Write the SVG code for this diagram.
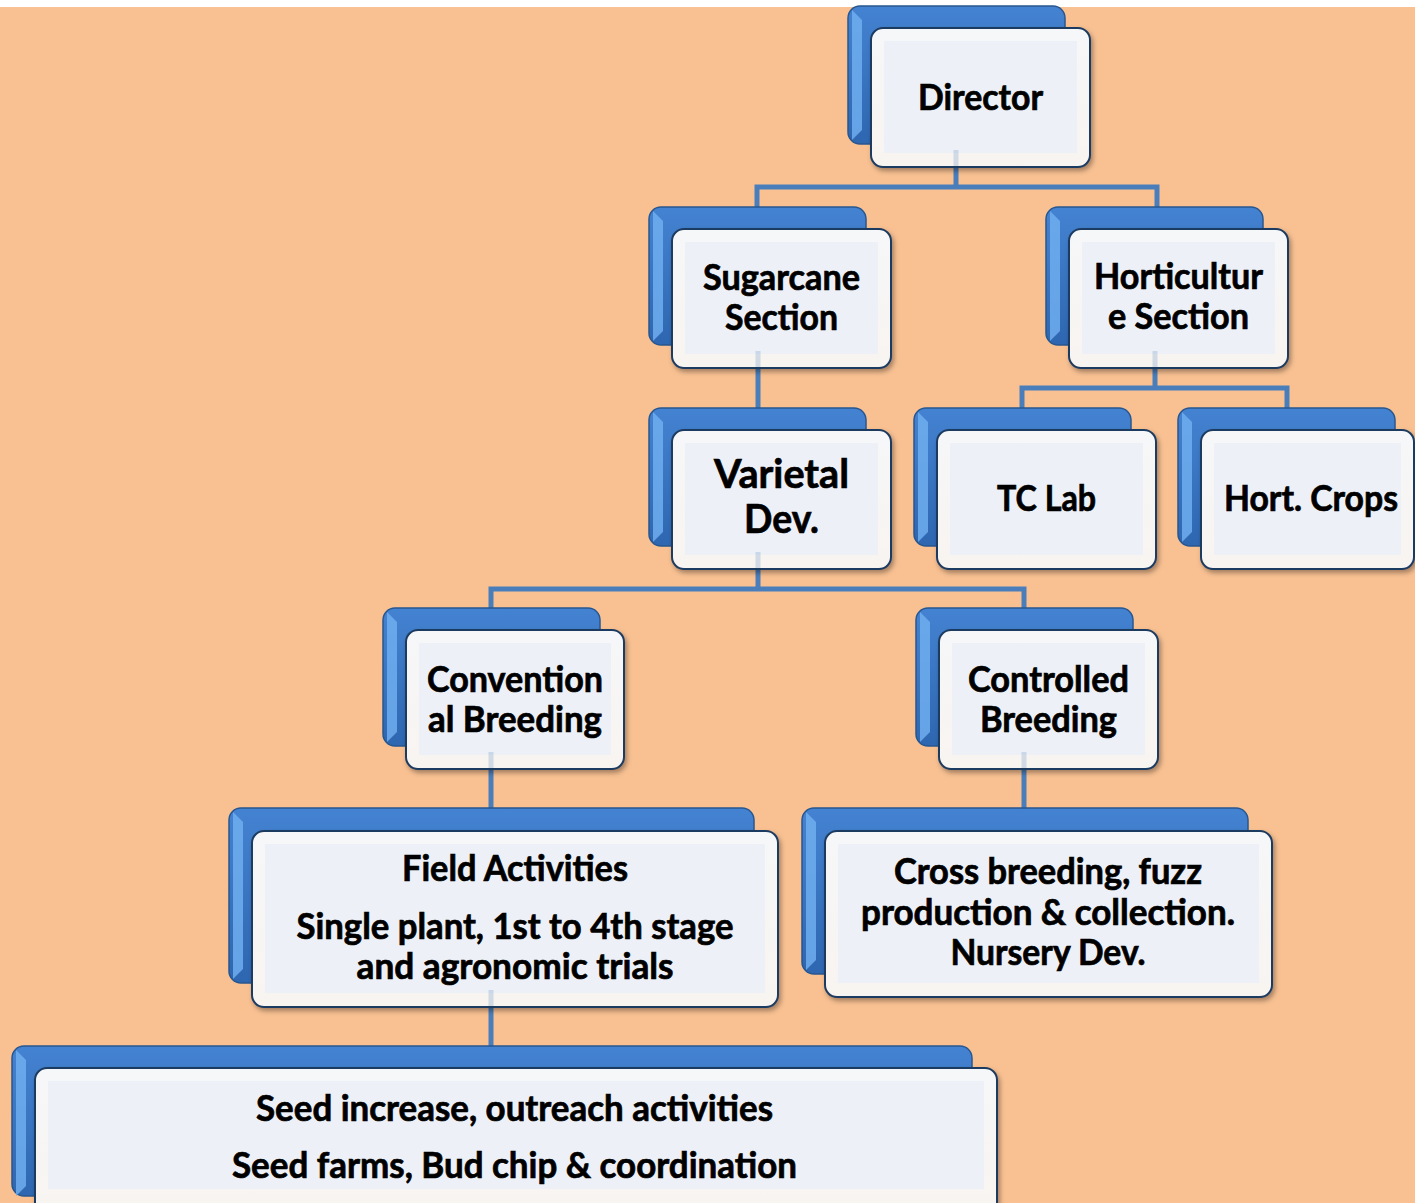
<svg xmlns="http://www.w3.org/2000/svg" width="1415" height="1203" viewBox="0 0 1415 1203">
<defs>
<linearGradient id="blueG" x1="0" y1="0" x2="0" y2="1">
<stop offset="0" stop-color="#4483D2"/>
<stop offset="1" stop-color="#2E66B0"/>
</linearGradient>
<linearGradient id="frontG" x1="0" y1="0" x2="0" y2="1">
<stop offset="0" stop-color="#F6F7F9"/>
<stop offset="1" stop-color="#F8F4F0"/>
</linearGradient>
<filter id="sh" x="-10%" y="-10%" width="125%" height="130%">
<feDropShadow dx="2" dy="3" stdDeviation="2.5" flood-color="#000" flood-opacity="0.35"/>
</filter>
</defs>
<style>
.back{fill:url(#blueG);stroke:#28578F;stroke-width:1.5}
.bev{fill:#6FAEEF;opacity:0.85}
.front{fill:url(#frontG);stroke:#1F3B60;stroke-width:2;filter:url(#sh)}
.inner{fill:#EDF0F6}
.ghost{stroke:#4A7EBB;stroke-width:5;opacity:0.22;fill:none}
.conn{stroke:#4A7EBB;stroke-width:5;fill:none}
text{font-family:Lato,"Open Sans","Liberation Sans",sans-serif;font-weight:bold;font-size:36px;fill:#000;stroke:#000;stroke-width:0.7;text-anchor:middle}
</style>
<rect x="0" y="0" width="1415" height="1203" fill="#FFFFFF"/>
<rect x="0" y="7" width="1415" height="1196" fill="#F9C192"/>

<g id="connectors">
<path class="conn" d="M757,208 V187 H1157 V208 M956,167 V187"/>
<path class="conn" d="M758,368 V409"/>
<path class="conn" d="M1022,409 V388 H1287 V409 M1155,368 V388"/>
<path class="conn" d="M491,609 V589 H1024 V609 M758,569 V589"/>
<path class="conn" d="M491,769 V809"/>
<path class="conn" d="M1024,769 V809"/>
<path class="conn" d="M491,1007 V1047"/>
</g>

<g id="n-director">
<rect class="back" x="848" y="6" width="217" height="138" rx="12"/>
<polygon class="bev" points="852,10 862,20 862,130 852,140"/>
<rect class="front" x="871" y="28" width="219" height="139" rx="12"/>
<rect class="inner" x="884" y="41" width="193" height="112"/>
<line class="ghost" x1="956" y1="150" x2="956" y2="166"/>
<text x="980.5" y="110" textLength="125" lengthAdjust="spacingAndGlyphs">Director</text>
</g>

<g id="n-sugarcane">
<rect class="back" x="649" y="207" width="217" height="138" rx="12"/>
<polygon class="bev" points="653,211 663,221 663,331 653,341"/>
<rect class="front" x="672" y="229" width="219" height="139" rx="12"/>
<rect class="inner" x="685" y="242" width="193" height="112"/>
<line class="ghost" x1="758" y1="351" x2="758" y2="367"/>
<text x="781.5" y="290" textLength="157" lengthAdjust="spacingAndGlyphs">Sugarcane</text>
<text x="781.5" y="330" textLength="113" lengthAdjust="spacingAndGlyphs">Section</text>
</g>

<g id="n-horticulture">
<rect class="back" x="1046" y="207" width="217" height="138" rx="12"/>
<polygon class="bev" points="1050,211 1060,221 1060,331 1050,341"/>
<rect class="front" x="1069" y="229" width="219" height="139" rx="12"/>
<rect class="inner" x="1082" y="242" width="193" height="112"/>
<line class="ghost" x1="1155" y1="351" x2="1155" y2="367"/>
<text x="1178.5" y="289" textLength="169" lengthAdjust="spacingAndGlyphs">Horticultur</text>
<text x="1178.5" y="329" textLength="141" lengthAdjust="spacingAndGlyphs">e Section</text>
</g>

<g id="n-varietal">
<rect class="back" x="649" y="408" width="217" height="138" rx="12"/>
<polygon class="bev" points="653,412 663,422 663,532 653,542"/>
<rect class="front" x="672" y="430" width="219" height="139" rx="12"/>
<rect class="inner" x="685" y="443" width="193" height="112"/>
<line class="ghost" x1="758" y1="552" x2="758" y2="568"/>
<text x="781.5" y="488" style="font-size:41px" textLength="135" lengthAdjust="spacingAndGlyphs">Varietal</text>
<text x="781.5" y="533" style="font-size:41px" textLength="75" lengthAdjust="spacingAndGlyphs">Dev.</text>
</g>

<g id="n-tclab">
<rect class="back" x="914" y="408" width="217" height="138" rx="12"/>
<polygon class="bev" points="918,412 928,422 928,532 918,542"/>
<rect class="front" x="937" y="430" width="219" height="139" rx="12"/>
<rect class="inner" x="950" y="443" width="193" height="112"/>
<text x="1046.5" y="511" textLength="99" lengthAdjust="spacingAndGlyphs">TC Lab</text>
</g>

<g id="n-hortcrops">
<rect class="back" x="1178" y="408" width="217" height="138" rx="12"/>
<polygon class="bev" points="1182,412 1192,422 1192,532 1182,542"/>
<rect class="front" x="1201" y="430" width="213" height="139" rx="12"/>
<rect class="inner" x="1214" y="443" width="187" height="112"/>
<text x="1311" y="511" textLength="174" lengthAdjust="spacingAndGlyphs">Hort. Crops</text>
</g>

<g id="n-conventional">
<rect class="back" x="383" y="608" width="217" height="138" rx="12"/>
<polygon class="bev" points="387,612 397,622 397,732 387,742"/>
<rect class="front" x="406" y="630" width="218" height="139" rx="12"/>
<rect class="inner" x="419" y="643" width="192" height="112"/>
<line class="ghost" x1="491" y1="752" x2="491" y2="768"/>
<text x="515" y="692" textLength="176" lengthAdjust="spacingAndGlyphs">Convention</text>
<text x="515" y="732" textLength="174" lengthAdjust="spacingAndGlyphs">al Breeding</text>
</g>

<g id="n-controlled">
<rect class="back" x="916" y="608" width="217" height="138" rx="12"/>
<polygon class="bev" points="920,612 930,622 930,732 920,742"/>
<rect class="front" x="939" y="630" width="219" height="139" rx="12"/>
<rect class="inner" x="952" y="643" width="193" height="112"/>
<line class="ghost" x1="1024" y1="752" x2="1024" y2="768"/>
<text x="1048.5" y="692" textLength="161" lengthAdjust="spacingAndGlyphs">Controlled</text>
<text x="1048.5" y="732" textLength="137" lengthAdjust="spacingAndGlyphs">Breeding</text>
</g>

<g id="n-field">
<rect class="back" x="229" y="808" width="525" height="175" rx="12"/>
<polygon class="bev" points="233,812 243,822 243,969 233,979"/>
<rect class="front" x="252" y="831" width="526" height="176" rx="12"/>
<rect class="inner" x="265" y="844" width="500" height="149"/>
<line class="ghost" x1="491" y1="990" x2="491" y2="1006"/>
<text x="515" y="881" textLength="226" lengthAdjust="spacingAndGlyphs">Field Activities</text>
<text x="515" y="939" textLength="437" lengthAdjust="spacingAndGlyphs">Single plant, 1st to 4th stage</text>
<text x="515" y="979" textLength="317" lengthAdjust="spacingAndGlyphs">and agronomic trials</text>
</g>

<g id="n-cross">
<rect class="back" x="802" y="808" width="446" height="166" rx="12"/>
<polygon class="bev" points="806,812 816,822 816,960 806,970"/>
<rect class="front" x="825" y="831" width="447" height="166" rx="12"/>
<rect class="inner" x="838" y="844" width="421" height="139"/>
<text x="1048" y="884" textLength="308" lengthAdjust="spacingAndGlyphs">Cross breeding, fuzz</text>
<text x="1048" y="925" textLength="374" lengthAdjust="spacingAndGlyphs">production &amp; collection.</text>
<text x="1048" y="965" textLength="195" lengthAdjust="spacingAndGlyphs">Nursery Dev.</text>
</g>

<g id="n-seed">
<rect class="back" x="12" y="1046" width="960" height="150" rx="12"/>
<polygon class="bev" points="16,1050 26,1060 26,1186 16,1196"/>
<rect class="front" x="35" y="1068" width="962" height="150" rx="12"/>
<rect class="inner" x="48" y="1081" width="936" height="108"/>
<text x="514.5" y="1121" textLength="517" lengthAdjust="spacingAndGlyphs">Seed increase, outreach activities</text>
<text x="514.5" y="1178" textLength="565" lengthAdjust="spacingAndGlyphs">Seed farms, Bud chip &amp; coordination</text>
</g>
</svg>
